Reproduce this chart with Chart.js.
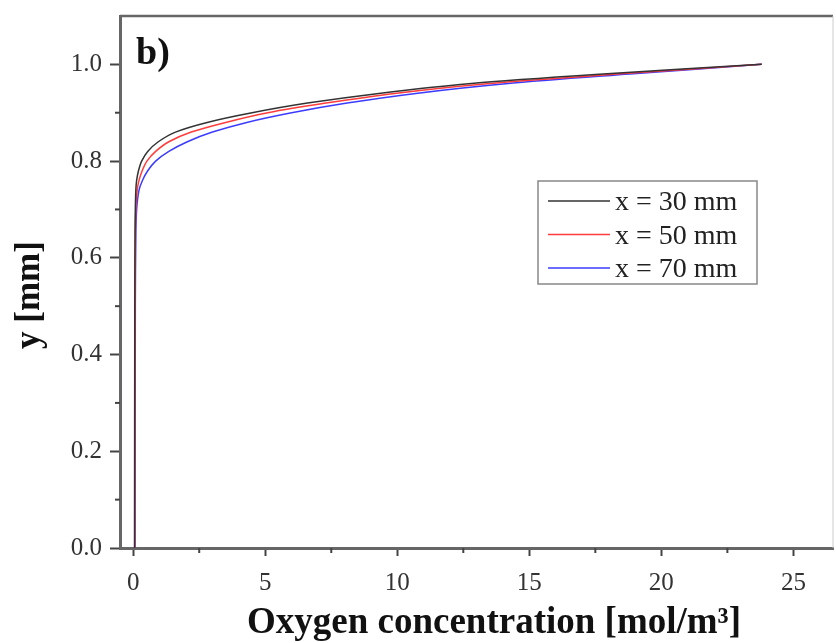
<!DOCTYPE html>
<html>
<head>
<meta charset="utf-8">
<script src="https://cdn.jsdelivr.net/npm/chart.js@4.4.0/dist/chart.umd.min.js"></script>
<style>
  body { margin: 0; background: #fff; }
  canvas { display: block; }
</style>
</head>
<body>
<canvas id="oxygenChart" width="836" height="643"></canvas>
<script>
// depth positions shared by the three profiles [mm]
const yPositions = [0, 0.5, 0.65, 0.7, 0.74, 0.76, 0.78, 0.8, 0.82, 0.84, 0.86, 0.88, 0.9, 0.92, 0.94, 0.96, 0.98, 1.0];

// oxygen concentration read at each depth [mol/m3]
const conc30 = [0.05, 0.06, 0.07, 0.08, 0.1, 0.13, 0.2, 0.32, 0.55, 0.95, 1.6, 2.8, 4.5, 6.6, 9.3, 12.7, 17.8, 23.8];
const conc50 = [0.06, 0.07, 0.08, 0.1, 0.15, 0.22, 0.34, 0.52, 0.85, 1.35, 2.2, 3.5, 5.1, 7.3, 9.9, 13.4, 18.3, 23.8];
const conc70 = [0.07, 0.08, 0.1, 0.13, 0.22, 0.35, 0.55, 0.85, 1.35, 2.05, 3.0, 4.3, 6.0, 8.1, 10.7, 14.1, 18.8, 23.8];

const seriesLabels = ['x = 30 mm', 'x = 50 mm', 'x = 70 mm'];
const seriesColors = ['#333333', '#ff3b3b', '#3b3bff'];

// axis ticks
const xTicks = [0, 5, 10, 15, 20, 25];
const yTicks = [0, 0.2, 0.4, 0.6, 0.8, 1.0];
const xMinorTicks = [2.5, 7.5, 12.5, 17.5, 22.5];
const yMinorTicks = [0.1, 0.3, 0.5, 0.7, 0.9];

const serif = '"Liberation Serif", "Times New Roman", serif';

function toPoints(conc) {
  return conc.map((c, i) => ({ x: c, y: yPositions[i] }));
}

// frame, minor ticks, titles and legend drawn over the chart
const decorPlugin = {
  id: 'decor',
  afterDraw(chart) {
    const ctx = chart.ctx;
    const area = chart.chartArea;
    const xs = chart.scales.x;
    const ys = chart.scales.y;
    ctx.save();

    // top and right frame
    ctx.strokeStyle = '#666';
    ctx.lineWidth = 2.5;
    ctx.beginPath();
    ctx.moveTo(area.left, area.top);
    ctx.lineTo(area.right, area.top);
    ctx.stroke();
    ctx.strokeStyle = '#ccc';
    ctx.lineWidth = 1;
    ctx.beginPath();
    ctx.moveTo(area.right, area.top);
    ctx.lineTo(area.right, area.bottom);
    ctx.stroke();

    // minor ticks
    ctx.strokeStyle = '#444';
    ctx.lineWidth = 2;
    xMinorTicks.forEach(v => {
      const px = xs.getPixelForValue(v);
      ctx.beginPath();
      ctx.moveTo(px, area.bottom);
      ctx.lineTo(px, area.bottom + 5);
      ctx.stroke();
    });
    yMinorTicks.forEach(v => {
      const py = ys.getPixelForValue(v);
      ctx.beginPath();
      ctx.moveTo(area.left, py);
      ctx.lineTo(area.left - 5, py);
      ctx.stroke();
    });

    // panel label
    ctx.fillStyle = '#111';
    ctx.font = 'bold 38px ' + serif;
    ctx.textAlign = 'left';
    ctx.textBaseline = 'alphabetic';
    ctx.fillText('b)', 136, 64);

    // axis titles
    ctx.font = 'bold 37px ' + serif;
    ctx.textAlign = 'center';
    ctx.fillText('Oxygen concentration [mol/m³]', 494, 633);
    ctx.save();
    ctx.translate(30, 295);
    ctx.rotate(-Math.PI / 2);
    ctx.font = 'bold 35px ' + serif;
    ctx.textBaseline = 'middle';
    ctx.fillText('y [mm]', 0, 0);
    ctx.restore();

    // legend
    ctx.strokeStyle = '#888';
    ctx.lineWidth = 1.5;
    ctx.strokeRect(538, 181, 219, 103);
    ctx.font = '28px ' + serif;
    ctx.textAlign = 'left';
    ctx.textBaseline = 'middle';
    seriesLabels.forEach((label, i) => {
      const rowY = 201 + i * 33.5;
      ctx.strokeStyle = seriesColors[i];
      ctx.lineWidth = 1.5;
      ctx.beginPath();
      ctx.moveTo(548, rowY);
      ctx.lineTo(610, rowY);
      ctx.stroke();
      ctx.fillStyle = '#222';
      ctx.fillText(label, 615, rowY + 2);
    });

    ctx.restore();
  }
};

const ctx = document.getElementById('oxygenChart').getContext('2d');

const chart = new Chart(ctx, {
  type: 'scatter',
  data: {
    datasets: [conc30, conc50, conc70].map((conc, i) => ({
      label: seriesLabels[i],
      data: toPoints(conc),
      showLine: true,
      borderColor: seriesColors[i],
      borderWidth: 1.5,
      pointRadius: 0,
      tension: 0.3
    }))
  },
  options: {
    responsive: false,
    animation: false,
    devicePixelRatio: 1,
    layout: {
      padding: { top: 16, right: 3, left: 0, bottom: 0 }
    },
    plugins: {
      legend: { display: false },
      tooltip: { enabled: false }
    },
    scales: {
      x: {
        type: 'linear',
        min: -0.5,
        max: 26.5,
        afterBuildTicks: scale => {
          scale.ticks = xTicks.map(v => ({ value: v }));
        },
        afterFit: scale => {
          scale.height = 95;
          scale.paddingLeft = 0;
          scale.paddingRight = 0;
        },
        ticks: {
          padding: 12,
          color: '#333',
          font: { family: serif, size: 25 },
          callback: v => String(v)
        },
        grid: {
          drawOnChartArea: false,
          tickLength: 8,
          tickWidth: 2,
          tickColor: '#444'
        },
        border: { color: '#666', width: 3 }
      },
      y: {
        type: 'linear',
        min: 0,
        max: 1.1,
        afterBuildTicks: scale => {
          scale.ticks = yTicks.map(v => ({ value: v }));
        },
        afterFit: scale => {
          scale.width = 120;
          scale.paddingTop = 0;
          scale.paddingBottom = 0;
        },
        ticks: {
          padding: 8,
          color: '#333',
          font: { family: serif, size: 25 },
          callback: v => Number(v).toFixed(1)
        },
        grid: {
          drawOnChartArea: false,
          tickLength: 10,
          tickWidth: 2,
          tickColor: '#444'
        },
        border: { color: '#666', width: 3 }
      }
    }
  },
  plugins: [decorPlugin]
});
</script>
</body>
</html>
